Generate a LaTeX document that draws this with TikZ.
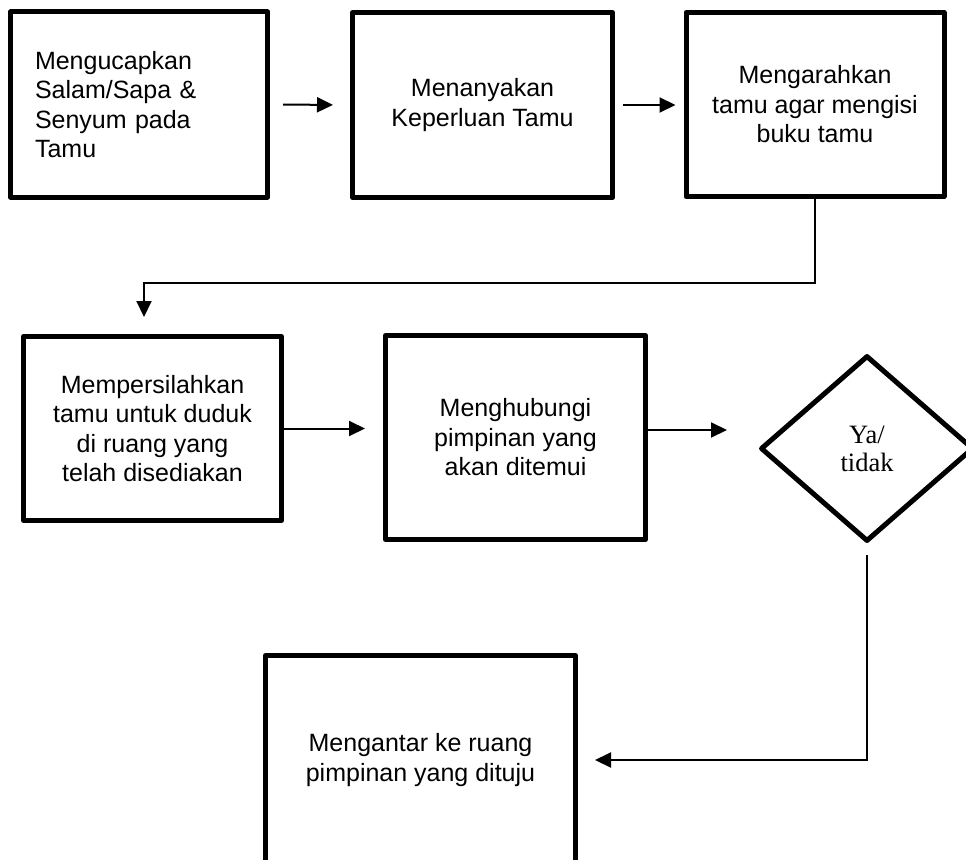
\documentclass[tikz,border=0pt]{standalone}
\usepackage{fontspec}
\setmainfont{Liberation Sans}
\newfontfamily\seriffont{Liberation Serif}
\usetikzlibrary{arrows.meta}
\usetikzlibrary{shapes.geometric}
\tikzset{proc/.style = {draw, line width = 5, line join = round, inner sep = 0,
    minimum width = 258, minimum height = 185, align = center,
    font = \fontsize{25}{29.5}\selectfont}}
\tikzset{dec/.style = {draw, diamond, line width = 5, line join = round, inner sep = 0,
    minimum width = 213, minimum height = 186, align = center,
    font = \seriffont\fontsize{26.5}{28}\selectfont}}
\tikzset{arr/.style = {line width = 2, -{Triangle[length=16pt, width=15pt]}}}

\begin{document}
\begin{tikzpicture}[x=1pt, y=-1pt]
    \useasboundingbox (0, 0) rectangle (966, 859);
    \clip (0, 0) rectangle (966, 859);

    % baris atas
    \node [proc, align = left, text width = 208, minimum width = 257] (salam) at (139, 104.5)
        {Mengucapkan\\Salam/Sapa \&\\Senyum pada\\Tamu};
    \node [proc, minimum width = 260] (tanya) at (482.5, 105) {Menanyakan\\Keperluan Tamu};
    \node [proc, minimum height = 184] (buku) at (815, 104.5) {Mengarahkan\\tamu agar mengisi\\buku tamu};

    % baris tengah
    \node [proc, minimum height = 184] (duduk) at (152.5, 428.5)
        {Mempersilahkan\\tamu untuk duduk\\di ruang yang\\telah disediakan};
    \node [proc, minimum width = 260, minimum height = 204] (hubungi) at (515.5, 437.5)
        {Menghubungi\\pimpinan yang\\akan ditemui};
    \node [dec] (yatidak) at (867, 448.5) {Ya/\\tidak};

    % baris bawah
    \node [proc, minimum width = 310, minimum height = 209] (antar) at (420.5, 760)
        {Mengantar ke ruang\\pimpinan yang dituju};

    \coordinate (belok) at (144, 283);

    \draw [arr, shorten <= 13pt, shorten >= 17pt] (salam.east) -- (tanya.west);
    \draw [arr, shorten <= 8pt, shorten >= 8pt] (tanya.east) -- (tanya.east -| buku.west);
    \draw [arr, shorten >= 17pt] (buku.south) |- (belok) -- (belok |- duduk.north);
    \draw [arr, shorten >= 18pt] (duduk.east) -- (duduk.east -| hubungi.west);
    \draw [arr, shorten >= 31pt] ([yshift=7.5pt]hubungi.east) -- ([yshift=7.5pt]hubungi.east -| yatidak.west);
    \draw [arr, shorten <= 11pt, shorten >= 17pt] (yatidak.south) |- (antar.east);
  \end{tikzpicture}
\end{document}
